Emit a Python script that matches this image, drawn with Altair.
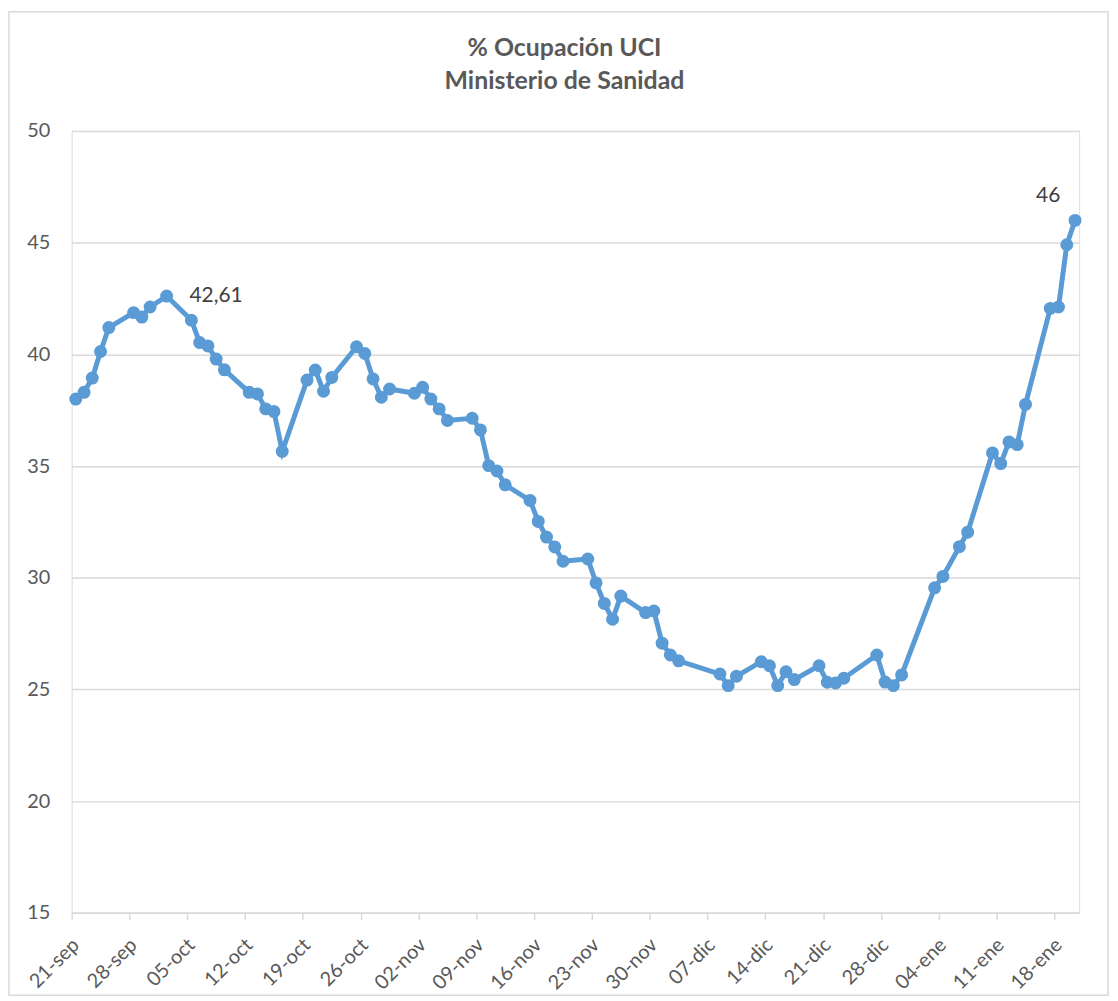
import altair as alt
import pandas as pd

# ---- data ----
fechas = [
    "2020-09-21", "2020-09-22", "2020-09-23", "2020-09-24", "2020-09-25",
    "2020-09-28", "2020-09-29", "2020-09-30", "2020-10-02",
    "2020-10-05", "2020-10-06", "2020-10-07", "2020-10-08", "2020-10-09",
    "2020-10-12", "2020-10-13", "2020-10-14", "2020-10-15", "2020-10-16",
    "2020-10-19", "2020-10-20", "2020-10-21", "2020-10-22",
    "2020-10-25", "2020-10-26", "2020-10-27", "2020-10-28", "2020-10-29",
    "2020-11-01", "2020-11-02", "2020-11-03", "2020-11-04", "2020-11-05",
    "2020-11-08", "2020-11-09", "2020-11-10", "2020-11-11", "2020-11-12",
    "2020-11-15", "2020-11-16", "2020-11-17", "2020-11-18", "2020-11-19",
    "2020-11-22", "2020-11-23", "2020-11-24", "2020-11-25", "2020-11-26",
    "2020-11-29", "2020-11-30", "2020-12-01", "2020-12-02", "2020-12-03",
    "2020-12-08", "2020-12-09", "2020-12-10",
    "2020-12-13", "2020-12-14", "2020-12-15", "2020-12-16", "2020-12-17",
    "2020-12-20", "2020-12-21", "2020-12-22", "2020-12-23",
    "2020-12-27", "2020-12-28", "2020-12-29", "2020-12-30",
    "2021-01-03", "2021-01-04", "2021-01-06", "2021-01-07",
    "2021-01-10", "2021-01-11", "2021-01-12", "2021-01-13", "2021-01-14",
    "2021-01-17", "2021-01-18", "2021-01-19", "2021-01-20",
]
ocupacion = [
    38.00, 38.30, 38.94, 40.13, 41.20,
    41.87, 41.67, 42.12, 42.61,
    41.53, 40.53, 40.38, 39.79, 39.31,
    38.30, 38.23, 37.56, 37.44, 35.66,
    38.85, 39.30, 38.35, 38.97,
    40.34, 40.04, 38.90, 38.08, 38.45,
    38.26, 38.53, 38.00, 37.56, 37.04,
    37.14, 36.62, 35.02, 34.78, 34.16,
    33.46, 32.52, 31.82, 31.38, 30.74,
    30.84, 29.77, 28.85, 28.14, 29.18,
    28.44, 28.51, 27.07, 26.54, 26.28,
    25.69, 25.17, 25.59,
    26.24, 26.06, 25.17, 25.79, 25.44,
    26.06, 25.32, 25.29, 25.50,
    26.54, 25.33, 25.17, 25.65,
    29.55, 30.06, 31.39, 32.04,
    35.59, 35.11, 36.08, 35.96, 37.76,
    42.06, 42.12, 44.91, 46.00,
]
etiquetas_x = [
    "21-sep", "28-sep", "05-oct", "12-oct", "19-oct", "26-oct", "02-nov",
    "09-nov", "16-nov", "23-nov", "30-nov", "07-dic", "14-dic", "21-dic",
    "28-dic", "04-ene", "11-ene", "18-ene",
]
valores_y = [15, 20, 25, 30, 35, 40, 45, 50]
nota_fechas = ["2020-10-02", "2021-01-20"]
nota_textos = ["42,61", "46"]

# ---- build table ----
inicio = pd.Timestamp("2020-09-21")
df = pd.DataFrame({"fecha": fechas, "ocupacion": ocupacion})
df["dia"] = (pd.to_datetime(df["fecha"]) - inicio).dt.days + 0.5
notas = pd.DataFrame({"fecha": nota_fechas, "texto": nota_textos}).merge(df, on="fecha")

AZUL = "#5B9BD5"
GRIS = "#595959"
REJILLA = "#D9D9D9"
FUENTE = "Lato"

tick_vals = [7 * i for i in range(len(etiquetas_x))]
label_expr = "[" + ",".join("'" + t + "'" for t in etiquetas_x) + "][round(datum.value / 7)]"

x_enc = alt.X(
    "dia:Q",
    scale=alt.Scale(domain=[0, 122], nice=False, zero=False),
    axis=alt.Axis(
        values=tick_vals,
        labelExpr=label_expr,
        title=None,
        grid=False,
        labelAngle=-45,
        labelAlign="right",
        labelBaseline="middle",
        labelOverlap=False,
        labelPadding=22,
        labelOffset=4,
        labelFontSize=20,
        labelColor=GRIS,
        labelFont=FUENTE,
        domainColor=REJILLA,
        domainWidth=1.5,
        tickColor=REJILLA,
        tickWidth=1.5,
        tickSize=7,
    ),
)
y_enc = alt.Y(
    "ocupacion:Q",
    scale=alt.Scale(domain=[15, 50], nice=False, zero=False),
    axis=alt.Axis(
        values=valores_y,
        title=None,
        domain=False,
        ticks=False,
        gridColor=REJILLA,
        gridWidth=1.5,
        labelPadding=22,
        labelFontSize=20,
        labelColor=GRIS,
        labelFont=FUENTE,
    ),
)

base = alt.Chart(df)
linea = base.mark_line(color=AZUL, strokeWidth=5).encode(x=x_enc, y=y_enc)
puntos = base.mark_circle(color=AZUL, size=170, opacity=1).encode(x="dia:Q", y="ocupacion:Q")

nota1 = alt.Chart(notas).transform_filter(alt.datum.texto == "42,61").mark_text(
    align="left", baseline="middle", dx=23, fontSize=21, font=FUENTE, color="#404040"
).encode(x="dia:Q", y="ocupacion:Q", text="texto:N")
nota2 = alt.Chart(notas).transform_filter(alt.datum.texto == "46").mark_text(
    align="center", baseline="middle", dx=-27, dy=-24, fontSize=21, font=FUENTE, color="#404040"
).encode(x="dia:Q", y="ocupacion:Q", text="texto:N")

marco = alt.Chart(pd.DataFrame({"k": [0]})).mark_rect(
    fill="transparent", stroke=REJILLA, strokeWidth=1.5
).encode(
    x=alt.value(-63), x2=alt.value(1042), y=alt.value(-120), y2=alt.value(869)
)

chart = alt.layer(marco, linea, puntos, nota1, nota2).properties(
    width=1013,
    height=786,
    autosize=alt.AutoSizeParams(type="none"),
    padding={"left": 64, "top": 121, "right": 31, "bottom": 85},
    title=alt.TitleParams(
        text=["% Ocupación UCI", "Ministerio de Sanidad"],
        anchor="middle",
        fontSize=25,
        font=FUENTE,
        fontWeight="bold",
        color=GRIS,
        lineHeight=33,
        offset=-83,
        dx=-11,
    ),
).configure_view(stroke=None).configure(background="white")

chart.save("out.html", embed_options={"renderer": "svg", "actions": False})
